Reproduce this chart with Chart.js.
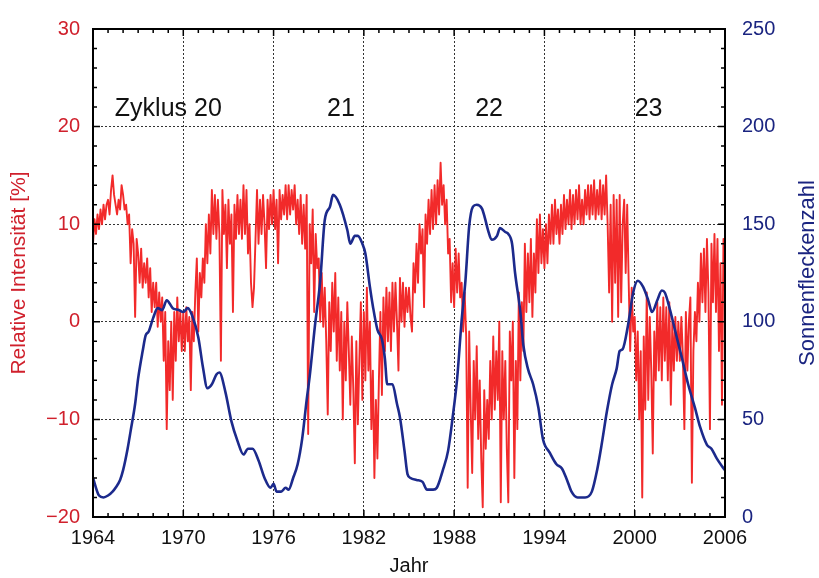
<!DOCTYPE html>
<html>
<head>
<meta charset="UTF-8">
<title>Kosmische Strahlung und Sonnenflecken</title>
<script src="https://cdn.jsdelivr.net/npm/chart.js"></script>
<style>
  html, body { margin: 0; padding: 0; background: #fff; }
</style>
</head>
<body>
<canvas id="chart" width="819" height="578"></canvas>
<script>
// Relative Intensität [%], ein Wert alle 0.1 Jahre ab 1964.0
const intensityStart = 1964;
const intensityStep = 0.1;
const intensity = [
  8, 10.5, 9, 11, 9.5, 11.5, 10, 12, 10.5, 12,        // 1964
  12.5, 11, 13.5, 15, 13, 12, 11, 12.5, 11.5, 14,     // 1965
  13, 11.5, 12, 10, 11, 6, 9.5, 8, 0.5, 8.5,          // 1966
  7, 4, 7.5, 3.5, 6, 4, 6.5, 2.5, 5.5, 1,             // 1967
  4, 1.5, 4, -0.5, 3, 0, 2.5, -4, 1, -11,             // 1968
  -2, -7, 0, -8, 1, -4, 2.5, -2, 1, -3,               // 1969
  1, -3, 1.5, -2, 0.5, -7, 1, -2, 3, 6.5,             // 1970
  -1, 5, 2.5, 6.5, 4, 10, 6, 11, 7, 13.5,             // 1971
  9, 13, 8.5, 12.5, 9, -4, 13.5, 9, 12, 5.5,          // 1972
  12.5, 8, 11, 1, 12, 8.5, 13, 9, 12.5, 8.5,          // 1973
  14, 9, 13.5, 7, 10, 4, 1.5, 3.5, 8.5, 13.5,         // 1974
  8, 12.5, 9, 13, 10, 5.5, 12.5, 9.5, 13, 10,         // 1975
  13.5, 9.5, 12.5, 6, 13.5, 10.5, 13, 11, 14, 10.5,   // 1976
  14, 11, 13.5, 11.5, 14, 10, 12.5, 9, 13, 8,         // 1977
  12, 7.5, 13, -11.5, 10, 6, 11.5, 1, 9, 5.5,         // 1978
  6.5, 0, 5, -0.5, 3.5, -2, -9.5, 2, -3, 4,           // 1979
  -1, 5, -4, 2.5, -5, 1, -10, 0, -6, 2,               // 1980
  -3, -8.5, -1.5, -7, -14.5, -2, -10.5, -4, 2, -8,    // 1981
  1, -6, 3.5, -5, 0, -11, -5, -16, -8, -14,           // 1982
  -6, 1, -7.5, 2.5, -3, 3.5, -2, 3, -3, 4,            // 1983
  -1, 4, 0, -5, 4.5, 0, 4, -0.5, 3.5, 1,              // 1984
  3.5, 0.5, -1, 6, 3, 8, 4, 10, 7, 9.5,               // 1985
  1.5, 11, 8, 12.5, 9, 13.5, 9.5, 14, 10, 14.5,       // 1986
  11, 16.3, 12, 14, 10, 12.5, 7, 8.5, 2, 6,           // 1987
  1.5, 7.5, 3, 7, 2.5, 4, -1, 3, -1.5, -17,           // 1988
  -1, -9, -15.5, -4, -10, -2.5, -12, -6, -14, -19,    // 1989
  -7, -13, -8, -12, -4, -10, -1.5, -9, -3, -8,        // 1990
  0, -18.5, -3, -10, -4, -13, -18.5, -1, -6, 0,       // 1991
  -16, -4, -11, 3, -6, 2, -3, 8, 1, 7,                // 1992
  2, 8.5, 0.5, 7, 3, 10.5, 5, 11, 6, 9.5,             // 1993
  5.5, 10, 6, 11, 8, 12, 8, 12.5, 9, 11.5,            // 1994
  8, 12, 9, 13, 9.5, 12.5, 10, 13.5, 9.5, 13,         // 1995
  10, 13.5, 10.5, 14, 10, 12.5, 10, 13.5, 11, 14,     // 1996
  10.5, 14, 11, 14.5, 10.5, 13.5, 11, 14.5, 10.5, 14, // 1997
  11, 15, 10, 3, 12, 0, 13, 4, 12.5, 0.5,             // 1998
  13, 2, 10, 12.5, 5, 12, 4, -3, 3.5, -1,             // 1999
  0.5, -6, -1, -10, -3, -18, -1.5, -9, 3, -8,         // 2000
  0.5, -5, -13.5, -1, -6, 2, -5, 1.5, -6, 2.5,        // 2001
  -4, 1.5, -6, 2, -8.5, 0, -5, 0.5, -4, 0,            // 2002
  -4, 0.5, -3.5, -11, 1, -5, 0, 2.5, -16.5, -3,       // 2003
  1, -2, 4, 0, 7, 2, 7.5, 1, 8.5, 3,                  // 2004
  -11, 8, 2, 9, 1, 8.5, -3, 6, -8.5, 8.5,             // 2005
  3                                                   // 2006
];

// Sonnenfleckenzahl (geglättet)
const sunspotYears = [
  1964.0, 1964.4, 1964.7, 1965.0, 1965.3, 1965.5, 1965.8, 1966.0, 1966.3, 1966.5,
  1966.8, 1967.0, 1967.3, 1967.5, 1967.7, 1968.0, 1968.3, 1968.6, 1968.9, 1969.3,
  1969.7, 1970.0, 1970.3, 1970.6, 1971.0, 1971.3, 1971.6, 1971.9, 1972.2, 1972.4,
  1972.8, 1973.2, 1973.6, 1974.0, 1974.3, 1974.6, 1975.0, 1975.4, 1975.8, 1976.0,
  1976.2, 1976.5, 1976.8, 1977.0, 1977.3, 1977.6, 1977.9, 1978.2, 1978.4, 1978.75,
  1979.1, 1979.4, 1979.75, 1979.95, 1980.4, 1980.9, 1981.1, 1981.4, 1981.6, 1981.9,
  1982.1, 1982.4, 1982.6, 1982.9, 1983.2, 1983.4, 1983.55, 1983.9, 1984.2, 1984.4,
  1984.7, 1984.9, 1985.1, 1985.5, 1985.9, 1986.2, 1986.6, 1986.85, 1987.25, 1987.6,
  1987.9, 1988.2, 1988.5, 1988.75, 1989.0, 1989.25, 1989.5, 1989.85, 1990.05, 1990.25,
  1990.5, 1990.85, 1991.05, 1991.4, 1991.6, 1991.85, 1992.05, 1992.4, 1992.6, 1992.9,
  1993.25, 1993.6, 1993.9, 1994.35, 1994.8, 1995.15, 1995.5, 1995.8, 1996.2, 1996.7,
  1997.15, 1997.5, 1997.8, 1998.15, 1998.5, 1998.8, 1999.0, 1999.2, 1999.55, 1999.9,
  2000.2, 2000.55, 2000.9, 2001.15, 2001.5, 2001.8, 2002.0, 2002.35, 2002.7, 2003.15,
  2003.55, 2004.0, 2004.35, 2004.8, 2005.1, 2005.45, 2005.8, 2006.0
];
const sunspotValues = [
  20, 11, 10, 11, 13, 15, 19, 24, 35, 44,
  58, 71, 85, 93, 95, 102, 107, 106, 111, 107,
  106, 105, 107, 103, 92, 77, 66, 68, 73, 74,
  64, 49, 39, 32, 35, 35, 29, 20, 15, 17,
  13, 13, 15, 14, 20, 27, 40, 60, 72, 98,
  121, 152, 159, 165, 160, 147, 140, 144, 144, 140,
  135, 118, 108, 96, 91, 81, 68, 68, 58, 51,
  34, 22, 20, 19, 18, 14, 14, 15, 24, 34,
  51, 71, 101, 121, 149, 159, 160, 158, 153, 147,
  142, 144, 148, 146, 145, 140, 125, 105, 88, 76,
  68, 56, 40, 33, 27, 25, 19, 13, 10, 10,
  13, 24, 37, 54, 68, 76, 85, 86, 98, 115,
  121, 118, 111, 105, 111, 116, 115, 106, 95, 81,
  68, 56, 46, 37, 35, 30, 26, 24
];

// Zyklus-Beschriftungen (Jahr, Intensität)
const cycleLabels = ['Zyklus 20', '21', '22', '23'];
const cycleLabelYears = [1965.45, 1979.55, 1989.4, 2000.0];
const cycleLabelLevel = 21.1;

const RED = '#f22a2a';
const RED_TEXT = '#d0202c';
const NAVY = '#1c2a8c';
const NAVY_TEXT = '#1a2480';
const FONT = "Arial, 'Liberation Sans', Helvetica, sans-serif";

const intensityPoints = intensity.map((v, i) => ({ x: intensityStart + i * intensityStep, y: v }));
const sunspotPoints = sunspotYears.map((yr, i) => ({ x: yr, y: sunspotValues[i] }));

const minus = v => (v < 0 ? '\u2212' + Math.abs(v) : String(v));

// Rahmen, nach innen zeigende Ticks, Zyklus-Texte und rechter Achsentitel
const framePlugin = {
  id: 'frame',
  afterDraw(chart) {
    const { ctx, chartArea: a, scales } = chart;
    const x = scales.x, yL = scales.yL, yR = scales.yR;
    ctx.save();
    ctx.strokeStyle = '#000';
    ctx.lineWidth = 1.5;
    ctx.beginPath();
    for (let v = 1964; v <= 2006; v++) {
      const px = x.getPixelForValue(v);
      const len = (v - 1964) % 6 === 0 ? 7 : 4;
      ctx.moveTo(px, a.bottom); ctx.lineTo(px, a.bottom - len);
      ctx.moveTo(px, a.top); ctx.lineTo(px, a.top + len);
    }
    for (let v = -20; v <= 30; v += 2) {
      const py = yL.getPixelForValue(v);
      const len = v % 10 === 0 ? 7 : 4;
      ctx.moveTo(a.left, py); ctx.lineTo(a.left + len, py);
    }
    for (let v = 0; v <= 250; v += 10) {
      const py = yR.getPixelForValue(v);
      const len = v % 50 === 0 ? 7 : 4;
      ctx.moveTo(a.right, py); ctx.lineTo(a.right - len, py);
    }
    ctx.stroke();
    ctx.lineWidth = 2;
    ctx.strokeRect(a.left, a.top, a.width, a.height);

    ctx.fillStyle = '#111';
    ctx.font = '25px ' + FONT;
    ctx.textAlign = 'left';
    ctx.textBaseline = 'alphabetic';
    cycleLabels.forEach((t, i) => {
      ctx.fillText(t, x.getPixelForValue(cycleLabelYears[i]), yL.getPixelForValue(cycleLabelLevel));
    });

    ctx.translate(yR.right - 11, (a.top + a.bottom) / 2);
    ctx.rotate(-Math.PI / 2);
    ctx.fillStyle = NAVY_TEXT;
    ctx.font = '22px ' + FONT;
    ctx.textAlign = 'center';
    ctx.textBaseline = 'middle';
    ctx.fillText('Sonnenfleckenzahl', 0, 0);
    ctx.restore();
  }
};

new Chart(document.getElementById('chart').getContext('2d'), {
  type: 'line',
  data: {
    datasets: [
      {
        label: 'Sonnenfleckenzahl',
        data: sunspotPoints,
        yAxisID: 'yR',
        borderColor: NAVY,
        borderWidth: 2.6,
        pointRadius: 0,
        cubicInterpolationMode: 'monotone'
      },
      {
        label: 'Relative Intensität [%]',
        data: intensityPoints,
        yAxisID: 'yL',
        borderColor: RED,
        borderWidth: 1.9,
        borderJoinStyle: 'round',
        pointRadius: 0,
        tension: 0
      }
    ]
  },
  options: {
    responsive: false,
    animation: false,
    layout: { padding: { top: 23, right: 0, bottom: 0, left: 0 } },
    plugins: { legend: { display: false }, tooltip: { enabled: false } },
    scales: {
      x: {
        type: 'linear',
        min: 1964,
        max: 2006,
        afterFit: s => { s.height = 61; },
        ticks: { stepSize: 6, color: '#111', padding: 9, font: { family: FONT, size: 20 }, callback: v => String(v) },
        grid: { color: '#333', lineWidth: 1, drawTicks: false },
        border: { display: false, dash: [2, 2] },
        title: { display: true, text: 'Jahr', color: '#111', font: { family: FONT, size: 20 }, padding: 0 }
      },
      yL: {
        position: 'left',
        min: -20,
        max: 30,
        afterFit: s => { s.width = 93; },
        ticks: { stepSize: 10, color: RED_TEXT, padding: 13, font: { family: FONT, size: 20 }, callback: minus },
        grid: { color: '#333', lineWidth: 1, drawTicks: false },
        border: { display: false, dash: [2, 2] },
        title: { display: true, text: 'Relative Intensität [%]', color: RED_TEXT, font: { family: FONT, size: 21 }, padding: { top: 7, bottom: 0 } }
      },
      yR: {
        position: 'right',
        min: 0,
        max: 250,
        afterFit: s => { s.width = 94; },
        ticks: { stepSize: 50, color: NAVY_TEXT, padding: 17, font: { family: FONT, size: 20 } },
        grid: { display: false, drawTicks: false },
        border: { display: false }
      }
    }
  },
  plugins: [framePlugin]
});
</script>
</body>
</html>
